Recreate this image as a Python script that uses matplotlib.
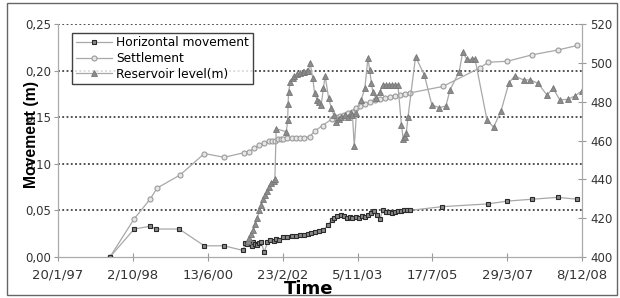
import datetime as dt
import matplotlib
matplotlib.use('Agg')
import matplotlib.pyplot as plt
from matplotlib.patches import Rectangle

# data, x in decimal years
hm_year = [1998.23, 1998.78, 1999.14, 1999.27, 1999.80, 2000.37, 2000.82, 2001.25, 2001.30, 2001.34,
           2001.39, 2001.44, 2001.48, 2001.53, 2001.57, 2001.62, 2001.66, 2001.73, 2001.80, 2001.87,
           2001.94, 2002.00, 2002.07, 2002.16, 2002.25, 2002.35, 2002.44, 2002.53, 2002.62, 2002.71,
           2002.80, 2002.89, 2002.98, 2003.07, 2003.17, 2003.26, 2003.32, 2003.39, 2003.46, 2003.53,
           2003.60, 2003.67, 2003.73, 2003.80, 2003.87, 2003.94, 2004.01, 2004.08, 2004.14, 2004.21,
           2004.28, 2004.35, 2004.42, 2004.49, 2004.55, 2004.62, 2004.69, 2004.76, 2004.83, 2004.89,
           2004.96, 2005.03, 2005.76, 2006.81, 2007.24, 2007.81, 2008.38, 2008.83]
hm_val = [0.000, 0.030, 0.033, 0.030, 0.030, 0.012, 0.012, 0.007, 0.015, 0.014,
          0.016, 0.012, 0.016, 0.014, 0.013, 0.015, 0.016, 0.005, 0.016, 0.018,
          0.017, 0.019, 0.018, 0.021, 0.021, 0.022, 0.023, 0.024, 0.024, 0.025,
          0.026, 0.027, 0.028, 0.029, 0.034, 0.040, 0.042, 0.044, 0.045, 0.044,
          0.042, 0.043, 0.042, 0.043, 0.042, 0.044, 0.043, 0.045, 0.047, 0.049,
          0.045, 0.041, 0.050, 0.048, 0.048, 0.047, 0.048, 0.049, 0.049, 0.050,
          0.050, 0.050, 0.054, 0.057, 0.060, 0.062, 0.064, 0.062]

se_year = [1998.23, 1998.78, 1999.14, 1999.30, 1999.82, 2000.37, 2000.82, 2001.28, 2001.39, 2001.50,
           2001.62, 2001.73, 2001.84, 2001.91, 2001.98, 2002.03, 2002.10, 2002.16, 2002.25, 2002.35,
           2002.44, 2002.53, 2002.64, 2002.76, 2002.87, 2003.05, 2003.26, 2003.35, 2003.44, 2003.53,
           2003.62, 2003.71, 2003.80, 2003.89, 2004.01, 2004.12, 2004.23, 2004.35, 2004.46, 2004.58,
           2004.69, 2004.80, 2004.92, 2005.03, 2005.78, 2006.62, 2006.81, 2007.24, 2007.81, 2008.38,
           2008.83]
se_val = [0.000, 0.041, 0.062, 0.074, 0.088, 0.111, 0.107, 0.112, 0.113, 0.117,
          0.120, 0.122, 0.124, 0.124, 0.125, 0.127, 0.127, 0.127, 0.128, 0.128,
          0.128, 0.128, 0.128, 0.129, 0.135, 0.141, 0.148, 0.150, 0.151, 0.152,
          0.154, 0.156, 0.160, 0.162, 0.164, 0.166, 0.168, 0.170, 0.171, 0.172,
          0.173, 0.174, 0.175, 0.176, 0.183, 0.203, 0.209, 0.210, 0.217, 0.222,
          0.227]

rl_year = [2001.37, 2001.39, 2001.43, 2001.48, 2001.53, 2001.57, 2001.62, 2001.66, 2001.71, 2001.75,
           2001.80, 2001.84, 2001.89, 2001.94, 2001.97, 2002.00, 2002.23, 2002.26, 2002.27, 2002.28,
           2002.32, 2002.37, 2002.41, 2002.48, 2002.53, 2002.60, 2002.64, 2002.69, 2002.73, 2002.77,
           2002.83, 2002.87, 2002.93, 2002.98, 2003.02, 2003.07, 2003.11, 2003.19, 2003.25, 2003.31,
           2003.36, 2003.42, 2003.48, 2003.55, 2003.62, 2003.69, 2003.73, 2003.77, 2003.82, 2003.93,
           2004.01, 2004.08, 2004.12, 2004.16, 2004.19, 2004.26, 2004.35, 2004.42, 2004.49, 2004.55,
           2004.62, 2004.69, 2004.76, 2004.84, 2004.88, 2004.92, 2004.95, 2004.99, 2005.16, 2005.36,
           2005.53, 2005.70, 2005.85, 2005.94, 2006.15, 2006.23, 2006.32, 2006.44, 2006.51, 2006.78,
           2006.93, 2007.10, 2007.28, 2007.41, 2007.61, 2007.76, 2007.94, 2008.14, 2008.28, 2008.43,
           2008.61, 2008.77, 2008.94]
rl_val = [408, 410, 412, 414, 417, 420, 424, 427, 430, 432,
          434, 436, 438, 439, 440, 466, 464.5, 470.6, 479, 485,
          490, 492, 493, 494, 494.7, 495.2, 495.5, 495.8, 496, 499.8,
          492, 484.3, 480.9, 480, 478.3, 486.9, 493.2, 481.7, 476.6, 473,
          469.7, 471, 472, 473, 472, 474, 473, 457, 474, 481,
          487, 502.3, 496.3, 489.4, 485, 481.7, 485, 488.6, 488.6, 488.6,
          488.6, 488.6, 488.6, 468, 461, 462, 464, 472.3, 503.2, 493.7,
          478.3, 476.9, 477.8, 486, 495.4, 505.7, 501.8, 501.8, 501.8, 470.6,
          466.8, 475.4, 489.8, 493.2, 491.2, 491.2, 489.4, 483.4, 486.9, 480.9,
          481.2, 482.9, 485.7]

date_ticks = ['20/1/97', '2/10/98', '13/6/00', '23/2/02', '5/11/03', '17/7/05', '29/3/07', '8/12/08']
left_ticks = [0.00, 0.05, 0.10, 0.15, 0.20, 0.25]
right_ticks = [400, 420, 440, 460, 480, 500, 520]


def dec_year(s):
    d = dt.datetime.strptime(s, '%d/%m/%y')
    start = dt.datetime(d.year, 1, 1)
    n = (dt.datetime(d.year + 1, 1, 1) - start).days
    return d.year + (d - start).days / n


xt = [dec_year(s) for s in date_ticks]

plt.rcParams['font.family'] = 'DejaVu Sans'
fig = plt.figure(figsize=(6.2, 2.98), dpi=100)
ax = fig.add_axes([58 / 620, 41 / 298, 524 / 620, 233 / 298])
ax2 = ax.twinx()

line_c = '#a8a8a8'
h1, = ax.plot(hm_year, hm_val, '-', color=line_c, lw=0.9, marker='s', ms=3.2,
              mfc='#8a8a8a', mec='#2a2a2a', mew=0.8, label='Horizontal movement', zorder=3)
h2, = ax.plot(se_year, se_val, '-', color=line_c, lw=0.9, marker='o', ms=3.6,
              mfc='#e6e6e6', mec='#9a9a9a', mew=0.8, label='Settlement', zorder=2)
h3, = ax2.plot(rl_year, rl_val, '-', color=line_c, lw=0.9, marker='^', ms=4.5,
               mfc='#8c8c8c', mec='#777777', mew=0.6, label='Reservoir level(m)')

ax.set_xlim(xt[0], xt[-1])
ax.set_ylim(0, 0.25)
ax2.set_ylim(400, 520)

ax.set_xticks(xt)
ax.set_xticklabels(date_ticks, fontsize=9.5, color='#333333')
ax.set_yticks(left_ticks)
ax.set_yticklabels([('%.2f' % v).replace('.', ',') for v in left_ticks], fontsize=8.5, color='#333333')
ax2.set_yticks(right_ticks)
ax2.set_yticklabels([str(v) for v in right_ticks], fontsize=8.5, color='#333333')

for v in left_ticks[1:]:
    ax.axhline(v, color='#222222', lw=1.1, ls=(0, (1.2, 1.6)), zorder=1)

for a in (ax, ax2):
    a.spines['top'].set_visible(False)
    for s in ('left', 'right', 'bottom'):
        a.spines[s].set_color('#aaaaaa')
ax.tick_params(axis='x', direction='inout', length=6, color='#999999', pad=5)
ax.tick_params(axis='y', direction='out', length=3, color='#999999', pad=2)
ax2.tick_params(axis='y', direction='inout', length=6, color='#999999', pad=3)

ax.set_ylabel('Movement (m)', fontsize=11.3, fontweight='bold', family='Liberation Sans')
ax.yaxis.set_label_coords(-0.0515, 0.524)
ax.yaxis.label.set_va('center')
ax.set_xlabel('Time', fontsize=13, fontweight='bold')
ax.xaxis.set_label_coords(0.479, -0.098)
ax.xaxis.label.set_va('top')

leg = ax.legend(handles=[h1, h2, h3], loc='upper left', bbox_to_anchor=(0.027, 0.963),
                borderaxespad=0, fontsize=8.8, frameon=True, fancybox=False,
                handlelength=3.0, handletextpad=0.3, labelspacing=0.22, borderpad=0.3)
leg.get_frame().set_edgecolor('#111111')
leg.get_frame().set_linewidth(1.0)

fig.patches.append(Rectangle((6.5 / 620, 3 / 298), 610.5 / 620, 292 / 298, transform=fig.transFigure,
                             fill=False, edgecolor='#666666', lw=1.0))

fig.savefig('out.png', dpi=100)
